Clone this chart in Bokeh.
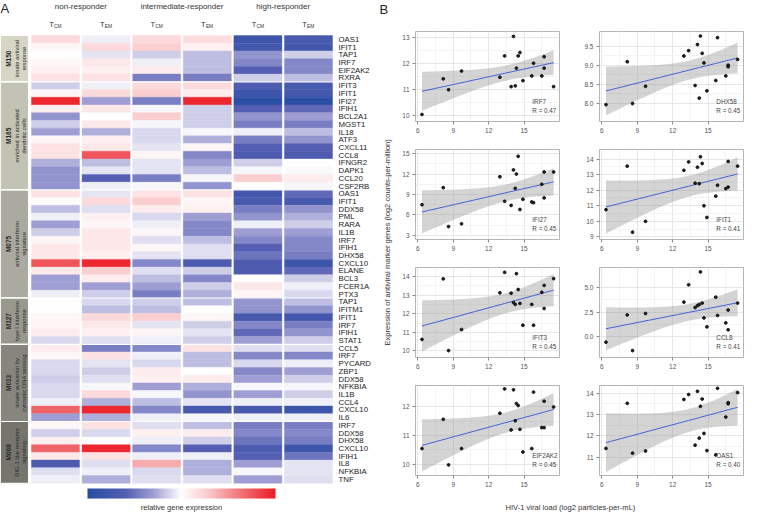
import numpy as np
from bokeh.plotting import figure
from bokeh.models import Range1d, LinearColorMapper, Span, FixedTicker, NumeralTickFormatter, ColumnDataSource
from bokeh.layouts import row, column
from bokeh.embed import file_html
from bokeh.resources import INLINE
from bokeh.core.properties import value

# ---------------- data: panel A (heatmap) ----------------
groups = ["non-responder", "intermediate-responder", "high-responder"]
subsets = ["CM", "EM", "CM", "EM", "CM", "EM"]
modules = ["M150", "M165", "M075", "M127", "M013", "M068"]
module_desc = ["innate antiviral\nresponse", "enriched in activated\ndendritic cells",
               "antiviral interferon\nsignature", "type I interferon\nresponse",
               "innate activation by\ncytosolic DNA sensing", "RIG-1 like receptor\nsignaling"]
module_sizes = [6, 14, 14, 6, 10, 8]
genes = ["OAS1", "IFIT1", "TAP1", "IRF7", "EIF2AK2", "RXRA",
         "IFIT3", "IFIT1", "IFI27", "IFIH1", "BCL2A1", "MGST1", "IL18", "ATF3", "CXCL11", "CCL8",
         "IFNGR2", "DAPK1", "CCL20", "CSF2RB",
         "OAS1", "IFIT1", "DDX58", "PML", "RARA", "IL1B", "IRF7", "IFIH1", "DHX58", "CXCL10",
         "ELANE", "BCL3", "FCER1A", "PTX3",
         "TAP1", "IFITM1", "IFIT1", "IRF7", "IFIH1", "STAT1",
         "CCL5", "IRF7", "PYCARD", "ZBP1", "DDX58", "NFKBIA", "IL1B", "CCL4", "CXCL10", "IL6",
         "IRF7", "DDX58", "DHX58", "CXCL10", "IFIH1", "IL8", "NFKBIA", "TNF"]

non_tcm = [0.2, 0.05, 0.0, 0.04, 0.08, 0.15,
           -0.15, 0.05, 0.95, 0.1, -0.35, -0.15, -0.3, 0.05, 0.15, 0.15, -0.25, -0.35, -0.35, -0.35,
           0.15, 0.02, -0.2, -0.05, -0.3, -0.15, 0.05, 0.12, 0.12, 0.75, 0.12, -0.3, -0.3, -0.05,
           0.0, 0.0, 0.05, 0.05, 0.1, -0.12,
           0.1, 0.05, -0.12, -0.12, -0.15, -0.12, -0.12, -0.05, 0.7, -0.3,
           0.05, -0.15, 0.08, 0.7, 0.12, -0.65, -0.1, -0.05]
non_tem = [-0.05, 0.2, -0.08, 0.12, 0.08, 0.15,
           -0.05, 0.2, -0.3, 0.12, 0.0, 0.12, -0.25, 0.08, 0.12, 0.75, -0.2, -0.08, -0.6, -0.05,
           -0.08, 0.2, -0.1, 0.08, 0.05, 0.12, 0.12, 0.12, 0.08, 0.95, 0.25, 0.1, -0.3, -0.15,
           -0.12, -0.2, 0.2, 0.12, 0.08, -0.1,
           -0.45, 0.15, -0.08, -0.15, -0.1, -0.03, 0.2, -0.25, 0.95, -0.25,
           0.15, -0.12, 0.0, 0.95, 0.15, -0.1, -0.05, -0.25]
int_tcm = [0.2, 0.25, -0.15, -0.05, 0.1, -0.45,
           0.2, 0.25, -0.45, -0.03, 0.25, -0.03, -0.12, -0.12, -0.08, 0.05, -0.08, -0.08, -0.45, -0.03,
           0.15, 0.25, 0.1, -0.12, -0.05, 0.05, -0.1, 0.05, -0.08, -0.4, -0.1, -0.2, -0.3, -0.45,
           -0.15, -0.2, 0.25, -0.08, 0.05, -0.05,
           -0.4, -0.05, -0.12, 0.1, 0.08, -0.3, -0.03, -0.2, -0.4, -0.05,
           -0.1, 0.08, -0.05, -0.4, -0.05, 0.4, -0.12, -0.1]
int_tem = [0.18, 0.08, -0.2, -0.2, -0.2, -0.45,
           0.2, 0.1, 0.95, -0.15, -0.15, -0.15, -0.03, -0.25, 0.05, -0.4, -0.3, -0.2, -0.03, -0.35,
           0.15, 0.05, 0.08, -0.3, -0.4, -0.4, -0.2, -0.1, -0.1, -0.65, -0.15, -0.4, -0.15, -0.25,
           -0.2, 0.0, 0.05, -0.15, -0.08, -0.15,
           0.15, -0.2, -0.2, 0.0, 0.1, -0.25, -0.35, -0.08, -0.7, -0.03,
           -0.2, 0.1, -0.15, -0.6, -0.05, -0.25, -0.25, -0.1]
high_tcm = [-0.8, -0.75, -0.35, -0.4, -0.6, -0.15,
            -0.65, -0.8, -0.95, -0.6, -0.35, -0.45, -0.05, -0.45, -0.6, -0.65, -0.15, -0.03, 0.25, 0.0,
            -0.75, -0.7, -0.45, -0.35, -0.05, -0.3, -0.4, -0.6, -0.5, -0.65, -0.65, 0.0, 0.12, 0.05,
            -0.35, -0.35, -0.7, -0.4, -0.55, -0.3,
            -0.1, -0.4, -0.12, -0.4, -0.3, -0.03, -0.3, -0.05, -0.7, -0.05,
            -0.45, -0.4, -0.5, -0.65, -0.6, -0.3, -0.03, -0.3]
high_tem = [-0.7, -0.75, -0.15, -0.4, -0.4, -0.2,
            -0.7, -0.75, -0.95, -0.55, -0.3, -0.45, -0.2, -0.35, -0.6, -0.65, 0.0, -0.02, 0.1, -0.03,
            -0.55, -0.7, -0.35, -0.25, -0.15, -0.3, -0.4, -0.4, -0.45, -0.8, -0.55, -0.15, -0.05, -0.12,
            -0.2, -0.35, -0.75, -0.45, -0.35, -0.15,
            -0.1, -0.4, -0.05, -0.3, -0.15, -0.03, -0.15, -0.05, -0.8, -0.05,
            -0.45, -0.4, -0.45, -0.8, -0.5, -0.08, -0.08, -0.1]

# ---------------- data: panel B (scatter) ----------------
viral_load = [6.35, 8.15, 8.6, 9.7, 12.95, 13.35, 13.9, 14.1, 14.25, 14.35, 14.5, 14.65, 14.9,
              15.65, 15.8, 16.5, 16.7, 16.7, 17.5]
irf7 = [10.05, 11.42, 11.0, 11.72, 11.48, 12.3, 11.12, 13.05, 11.15, 11.83, 12.3, 12.43, 11.35,
        11.53, 12.02, 11.53, 12.27, 11.83, 11.12]
dhx58 = [7.97, 9.09, 8.0, 8.45, 9.24, 9.38, 8.47, 9.54, 8.14, 9.76, 9.31, 9.06, 8.33,
         8.6, 9.72, 8.72, 9.0, 8.96, 9.15]
ifi27 = [7.5, 10.0, 4.3, 4.7, 11.6, 8.0, 7.4, 12.6, 9.9, 12.0, 14.6, 6.8, 8.3,
         7.9, 7.8, 10.5, 12.3, 8.5, 12.3]
ifit1 = [10.75, 13.55, 9.3, 10.0, 13.28, 13.82, 12.45, 13.48, 12.42, 14.15, 13.72, 11.0, 10.25,
         11.62, 12.32, 12.1, 13.85, 12.2, 13.55]
ifit3 = [10.62, 13.87, 10.02, 11.15, 13.12, 14.22, 13.1, 12.6, 12.5, 14.15, 13.3, 12.55, 11.38,
         12.5, 11.38, 13.15, 13.52, 12.28, 13.88]
ccl8 = [-0.55, 2.2, -1.4, 2.35, 3.5, 5.25, 2.95, 3.15, 3.25, 6.55, 3.4, 1.9, 1.0,
        4.0, 2.15, 1.4, 2.7, 0.7, 3.4]
eif2ak2 = [10.55, 11.57, 9.98, 10.55, 11.78, 12.63, 11.2, 12.6, 11.52, 12.12, 12.05, 11.22, 10.43,
           10.55, 12.52, 11.28, 12.2, 11.28, 12.0]
oas1 = [11.42, 13.52, 11.2, 11.3, 13.7, 13.93, 11.57, 14.08, 11.9, 13.38, 13.72, 12.12, 11.32,
        11.12, 14.22, 12.88, 13.55, 13.5, 14.02]
panel_genes = ["IRF7", "DHX58", "IFI27", "IFIT1", "IFIT3", "CCL8", "EIF2AK2", "OAS1"]
panel_values = [irf7, dhx58, ifi27, ifit1, ifit3, ccl8, eif2ak2, oas1]
panel_r = ["0.47", "0.45", "0.45", "0.41", "0.45", "0.41", "0.45", "0.40"]
panel_yticks = [[10, 11, 12, 13], [8.0, 8.5, 9.0, 9.5], [3, 6, 9, 12, 15], [9, 10, 11, 12, 13, 14],
                [10, 11, 12, 13, 14], [0.0, 2.5, 5.0], [10, 11, 12], [11, 12, 13, 14]]
x_ticks = [6, 9, 12, 15]

# ---------------- styling / layout constants ----------------
FONT = "Liberation Sans"
TXT = "#333333"
panel_yrange = [(9.78, 13.24), (7.53, 9.88), (2.4, 15.6), (8.83, 14.62),
                (9.65, 14.48), (-2.1, 7.0), (9.61, 12.75), (10.16, 14.35)]
panel_fmt = ["0", "0.0", "0", "0", "0", "0.0", "0", "0"]
module_colors = ["#d6d6c7", "#c2c2b5", "#aaaaa0", "#98988f", "#86867e", "#75756e"]

stops_v = [-1.0, -0.6, -0.3, 0.0, 0.3, 0.65, 1.0]
stops_c = [(38, 77, 163), (84, 94, 178), (158, 158, 212), (255, 255, 255),
           (250, 198, 200), (240, 110, 115), (236, 28, 36)]
lv = np.linspace(-1, 1, 256)
palette = []
for v in lv:
    rgb = [int(round(np.interp(v, stops_v, [c[k] for c in stops_c]))) for k in range(3)]
    palette.append("#%02x%02x%02x" % tuple(rgb))
mapper = LinearColorMapper(palette=palette, low=-1, high=1)

# ---------------- panel A figure ----------------
ROW_PX = 7.72
TOP_PX = 35
HM_W, HM_H = 372, 514
hm = figure(width=HM_W, height=HM_H, x_range=Range1d(-1.087, 6.265),
            y_range=Range1d((HM_H - TOP_PX) / ROW_PX, -TOP_PX / ROW_PX),
            output_backend="svg", toolbar_location=None, min_border=0,
            x_axis_location=None, y_axis_location=None)
hm.grid.visible = False
hm.outline_line_color = None

cols = [non_tcm, non_tem, int_tcm, int_tem, high_tcm, high_tem]
xs, ys, vs = [], [], []
for ci, colv in enumerate(cols):
    for ri, v in enumerate(colv):
        xs.append(ci)
        ys.append(ri + 0.5)
        vs.append(v)
hsrc = ColumnDataSource(dict(x=xs, y=ys, v=vs))
hm.rect(x="x", y="y", width=0.95, height=1, source=hsrc,
        fill_color={"field": "v", "transform": mapper},
        line_color={"field": "v", "transform": mapper}, line_width=0.4)

# module boxes
starts = np.cumsum([0] + module_sizes[:-1])
mcent = [s + n / 2 for s, n in zip(starts, module_sizes)]
hm.rect(x=-0.8105, y=mcent, width=0.553, height=module_sizes, fill_color=module_colors,
        line_color="white", line_width=1)
hm.text(x=-0.93, y=mcent, text=modules, angle=np.pi / 2, text_align="center",
        text_baseline="middle", text_font=value(FONT), text_font_size="6.5px",
        text_font_style="bold", text_color="#2a2a2a")
hm.text(x=-0.70, y=mcent, text=module_desc, angle=np.pi / 2, text_align="center",
        text_baseline="middle", text_font=value(FONT), text_font_size="5.8px",
        text_color="#2a2a2a", text_line_height=1.15)

for b in np.cumsum(module_sizes)[:-1]:
    hm.add_layout(Span(location=float(b), dimension="width", line_color="white", line_width=1.2))

# gene labels
hm.text(x=5.593, y=[i + 0.5 for i in range(len(genes))], text=genes, text_align="left",
        text_baseline="middle", text_font=value(FONT), text_font_size="7.8px", text_color="#222222")

# headers
hm.text(x=[0.5, 2.5, 4.5], y=-3.756, text=groups, text_align="center", text_baseline="middle",
        text_font=value(FONT), text_font_size="8px", text_color=TXT)
hm.text(x=list(range(6)), y=-1.425, text=["T"] * 6, text_align="right", text_baseline="middle",
        x_offset=-1.6, text_font=value(FONT), text_font_size="7.5px", text_color=TXT)
hm.text(x=list(range(6)), y=-1.425, text=subsets, text_align="left", text_baseline="middle",
        x_offset=-1.4, y_offset=2, text_font=value(FONT), text_font_size="4.8px", text_color=TXT)

# colour bar
hm.image(image=[lv.reshape(1, -1)], x=0.632, y=58.68, dw=3.716, dh=1.3, color_mapper=mapper)
hm.text(x=2.49, y=61.14, text=["relative gene expression"], text_align="center",
        text_baseline="middle", text_font=value(FONT), text_font_size="7.5px", text_color=TXT)

# panel letter
hm.text(x=-1.087, y=-TOP_PX / ROW_PX, text=["A"], text_align="left", text_baseline="top",
        x_offset=0, y_offset=0, text_font=value(FONT), text_font_size="13px", text_color="#222222")

# ---------------- panel B figures ----------------
n = len(viral_load)
X = np.array(viral_load)
tcrit = 2.1098  # t(0.975, df=17)


def scatter_panel(i, left):
    yv = np.array(panel_values[i])
    lo, hi = panel_yrange[i]
    p = figure(width=186 if left else 163, height=118,
               x_range=Range1d(5.8, 18.0), y_range=Range1d(lo, hi),
               output_backend="svg", toolbar_location=None,
               min_border_left=20 if left else 18, min_border_right=22 if left else 1,
               min_border_top=3, min_border_bottom=25)
    xt = FixedTicker(ticks=x_ticks, minor_ticks=[7.5, 10.5, 13.5, 16.5])
    yt_major = panel_yticks[i]
    step = yt_major[1] - yt_major[0]
    yt = FixedTicker(ticks=yt_major, minor_ticks=[t + step / 2 for t in yt_major[:-1]])
    p.xaxis.ticker = xt
    p.xgrid.ticker = xt
    p.yaxis.ticker = yt
    p.ygrid.ticker = yt
    p.yaxis.formatter = NumeralTickFormatter(format=panel_fmt[i])
    p.grid.grid_line_color = "#e6e6e6"
    p.grid.minor_grid_line_color = "#f3f3f3"
    p.axis.axis_line_color = None
    p.axis.minor_tick_line_color = None
    p.axis.major_tick_line_color = "#8a8a8a"
    p.axis.major_tick_out = 3
    p.axis.major_tick_in = 0
    p.axis.major_label_standoff = 2
    p.axis.major_label_text_font = FONT
    p.axis.major_label_text_font_size = "6.5px"
    p.axis.major_label_text_color = "#555555"
    p.outline_line_color = "#b5b5b5"
    p.outline_line_width = 1

    b, a = np.polyfit(X, yv, 1)
    res = yv - (a + b * X)
    s = np.sqrt(np.sum(res ** 2) / (n - 2))
    sxx = np.sum((X - X.mean()) ** 2)
    gx = np.linspace(X.min(), X.max(), 60)
    fit = a + b * gx
    se = s * np.sqrt(1.0 / n + (gx - X.mean()) ** 2 / sxx)
    p.varea(x=gx, y1=fit - tcrit * se, y2=fit + tcrit * se, fill_color="#999999", fill_alpha=0.42)
    p.line(gx, fit, line_color="#3d5fd6", line_width=1)
    p.scatter(X, yv, size=2.8, fill_color="#1a1a1a", line_color="#1a1a1a")

    p.text(x=[15.7], y=[lo + 0.22 * (hi - lo)], text=[panel_genes[i]], text_align="left",
           text_baseline="middle", text_font=value(FONT), text_font_size="6.3px", text_color="#444444")
    p.text(x=[15.7], y=[lo + 0.12 * (hi - lo)], text=["R = " + panel_r[i]], text_align="left",
           text_baseline="middle", text_font=value(FONT), text_font_size="6.3px", text_color="#444444")
    return p


panels = [scatter_panel(i, i % 2 == 0) for i in range(8)]
grid = column(row(panels[0], panels[1]), row(panels[2], panels[3]),
              row(panels[4], panels[5]), row(panels[6], panels[7]))


def blank(w, h):
    f = figure(width=w, height=h, x_range=Range1d(0, 1), y_range=Range1d(0, 1),
               output_backend="svg", toolbar_location=None, min_border=0,
               x_axis_location=None, y_axis_location=None)
    f.grid.visible = False
    f.outline_line_color = None
    return f


bfig = blank(372, 28)
bfig.text(x=[0.019], y=[0.68], text=["B"], text_align="left", text_baseline="middle",
          text_font=value(FONT), text_font_size="13px", text_color="#222222")

yfig = blank(23, 472)
yfig.text(x=[0.65], y=[0.547], text=["Expression of antiviral marker genes (log2 counts-per-million)"],
          angle=np.pi / 2, text_align="center", text_baseline="middle",
          text_font=value(FONT), text_font_size="7.6px", text_color=TXT)

xfig = blank(372, 14)
xfig.text(x=[0.532], y=[0.5], text=["HIV-1 viral load (log2 particles-per-mL)"],
          text_align="center", text_baseline="middle",
          text_font=value(FONT), text_font_size="7.6px", text_color=TXT)

right = column(bfig, row(yfig, grid), xfig)
layout = row(hm, right)

open("out.html", "w").write(file_html(layout, INLINE))
